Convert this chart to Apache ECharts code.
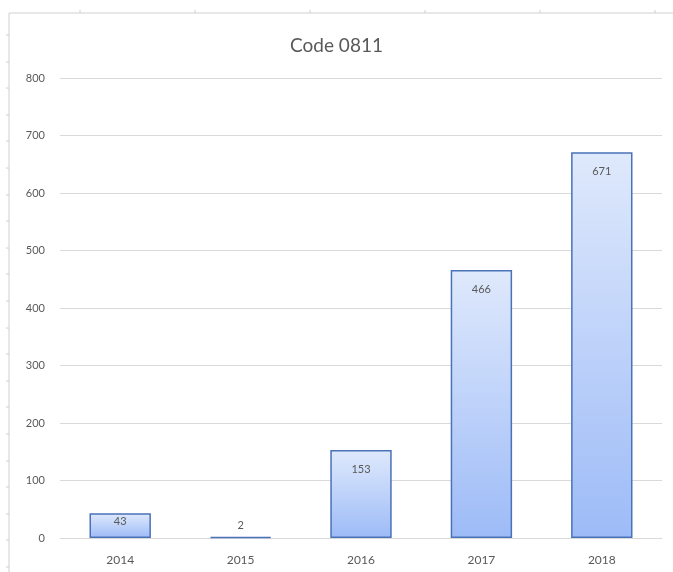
<!DOCTYPE html>
<html>
<head>
<meta charset="utf-8">
<script src="https://cdn.jsdelivr.net/npm/echarts@6/dist/echarts.min.js"></script>
<style>html,body{margin:0;padding:0;background:#fff}#c{width:673px;height:572px}</style>
</head>
<body>
<div id="c"></div>
<script>
var categories = ['2014', '2015', '2016', '2017', '2018'];
var values = [43, 2, 153, 466, 671];
var titleText = 'Code 0811';

var chart = echarts.init(document.getElementById('c'), null, {renderer: 'canvas'});

var frame = [];
frame.push({type: 'line', shape: {x1: 9, y1: 13, x2: 673, y2: 13}, style: {stroke: '#d0d0d0', lineWidth: 1}, silent: true});
frame.push({type: 'line', shape: {x1: 9, y1: 13, x2: 9, y2: 572}, style: {stroke: '#d0d0d0', lineWidth: 1}, silent: true});
[80, 195, 310, 425, 540, 655].forEach(function (x) {
  frame.push({type: 'line', shape: {x1: x, y1: 10, x2: x, y2: 13}, style: {stroke: '#d0d0d0', lineWidth: 1}, silent: true});
});
for (var y = 35; y < 572; y += 26.6) {
  frame.push({type: 'line', shape: {x1: 6, y1: Math.round(y), x2: 9, y2: Math.round(y)}, style: {stroke: '#d0d0d0', lineWidth: 1}, silent: true});
}

function labelFor(v) {
  if (v < 10) return {position: 'top', distance: 6};
  if (v < 80) return {position: 'insideTop', distance: 3};
  return {position: 'insideTop', distance: 14};
}
var seriesData = values.map(function (v) {
  return {value: v, label: labelFor(v)};
});

chart.setOption({
  animation: false,
  title: {
    text: titleText,
    left: 'center',
    top: 31,
    textStyle: {fontFamily: 'Lato', fontSize: 19, fontWeight: 'normal', color: '#595959'}
  },
  grid: {left: 60, right: 11, top: 78, bottom: 34},
  xAxis: {
    type: 'category',
    data: categories,
    axisLine: {lineStyle: {color: '#d9d9d9'}},
    axisTick: {show: false},
    axisLabel: {color: '#595959', fontFamily: 'Lato', fontSize: 12, margin: 16}
  },
  yAxis: {
    type: 'value',
    min: 0, max: 800, interval: 100,
    axisLine: {show: false},
    axisTick: {show: false},
    axisLabel: {color: '#595959', fontFamily: 'Lato', fontSize: 11, margin: 15},
    splitLine: {lineStyle: {color: '#d9d9d9', width: 1}}
  },
  series: [{
    type: 'bar',
    data: seriesData,
    barWidth: '51%',
    itemStyle: {
      color: new echarts.graphic.LinearGradient(0, 0, 0, 1, [
        {offset: 0, color: '#dfe9fc'},
        {offset: 1, color: '#9dbbf7'}
      ]),
      borderColor: '#4a72b8',
      borderWidth: 1.5
    },
    label: {
      show: true,
      position: 'insideTop',
      distance: 14,
      color: '#595959',
      fontFamily: 'Lato',
      fontSize: 11
    }
  }],
  graphic: frame
});
</script>
</body>
</html>
